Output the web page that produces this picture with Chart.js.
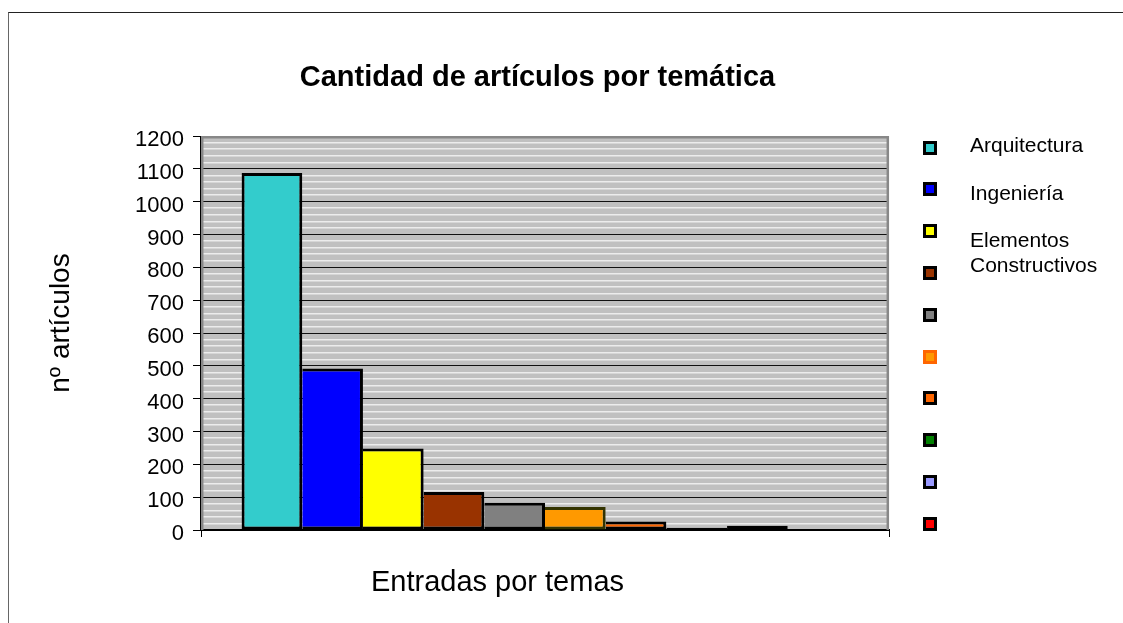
<!DOCTYPE html>
<html>
<head>
<meta charset="utf-8">
<script src="https://cdn.jsdelivr.net/npm/chart.js@4/dist/chart.umd.min.js"></script>
<style>
  html, body { margin: 0; padding: 0; background: #fff; }
  body { width: 1123px; height: 623px; position: relative; overflow: hidden; font-family: "Liberation Sans", Arial, sans-serif; color: #000; }
  #frame { position: absolute; left: 8px; top: 12px; width: 1200px; height: 700px; border-left: 1px solid #666; border-top: 1px solid #222; box-sizing: border-box; }
  #cv { position: absolute; left: 0; top: 0; }
  .txt { position: absolute; white-space: nowrap; line-height: 1; }
  #title { font-weight: bold; font-size: 29px; left: 237.5px; width: 600px; text-align: center; top: 61.5px; }
  #xtitle { font-size: 29px; left: 297.5px; width: 400px; text-align: center; top: 567px; }
  #ytitle { font-size: 28px; width: 300px; height: 28px; text-align: center; left: -89.7px; top: 308.5px; transform: rotate(-90deg); transform-origin: 150px 14px; }
  #legend { position: absolute; left: 0; top: 0; }
  .sw { position: absolute; width: 8px; height: 8px; border: 3px solid #000; }
  .lbl { position: absolute; left: 970px; width: 140px; font-size: 21px; line-height: 24.5px; white-space: normal; }
</style>
</head>
<body>
<div id="frame"></div>
<canvas id="cv" width="1123" height="623"></canvas>
<div class="txt" id="title"></div>
<div class="txt" id="xtitle"></div>
<div class="txt" id="ytitle"></div>
<div id="legend"></div>
<script>
// ---- data ----
const chartTitle = "Cantidad de artículos por temática";
const xAxisTitle = "Entradas por temas";
const yAxisTitle = "nº artículos";
const categories = [""];
const seriesNames = ["Arquitectura", "Ingeniería", "Elementos Constructivos", "", "", "", "", "", "", ""];
const seriesValues = [1087, 492, 248, 116, 83, 70, 26, 7, 13, 0];
const seriesColors = ["#33CCCC", "#0000FF", "#FFFF00", "#993300", "#808080", "#FF9900", "#FF6600", "#008000", "#9999FF", "#FF0000"];
const barBorderColors = ["#000", "#000", "#000", "#000", "#000", "#333300", "#000", "#000", "#000", "#000"];
const legendBorderColors = ["#000", "#000", "#000", "#000", "#000", "#FF6600", "#000", "#000", "#000", "#000"];
const yTickLabels = ["0", "100", "200", "300", "400", "500", "600", "700", "800", "900", "1000", "1100", "1200"];
const yMax = 1200;
const yMinorStep = 20;

document.getElementById('title').textContent = chartTitle;
document.getElementById('xtitle').textContent = xAxisTitle;
document.getElementById('ytitle').textContent = yAxisTitle;

// legend (HTML)
const legend = document.getElementById('legend');
seriesNames.forEach((name, i) => {
  const sw = document.createElement('div');
  sw.className = 'sw';
  sw.style.left = '923px';
  sw.style.top = (140.5 + i * 41.8) + 'px';
  sw.style.background = seriesColors[i];
  sw.style.borderColor = legendBorderColors[i];
  legend.appendChild(sw);
});
const namedLabels = seriesNames.filter(n => n !== "");
namedLabels.forEach((name, i) => {
  const d = document.createElement('div');
  d.className = 'lbl';
  d.style.top = (133.2 + i * 47.6) + 'px';
  d.textContent = name;
  legend.appendChild(d);
});

const plotBg = {
  id: 'plotBg',
  beforeDraw(chart) {
    const a = chart.chartArea, c = chart.ctx;
    c.save();
    c.fillStyle = '#c0c0c0';
    c.fillRect(a.left, a.top, a.right - a.left, a.bottom - a.top);
    c.restore();
  },
  beforeDatasetsDraw(chart) {
    const a = chart.chartArea, c = chart.ctx;
    c.save();
    c.strokeStyle = '#888';
    c.lineWidth = 2.5;
    c.beginPath();
    c.moveTo(a.left + 1.2, a.bottom);
    c.lineTo(a.left + 1.2, a.top + 1.2);
    c.lineTo(a.right - 1.2, a.top + 1.2);
    c.lineTo(a.right - 1.2, a.bottom);
    c.stroke();
    c.strokeStyle = '#000';
    c.lineWidth = 1;
    c.beginPath();
    c.moveTo(a.left - 0.5, a.top);
    c.lineTo(a.left - 0.5, a.bottom);
    c.stroke();
    c.restore();
  }
};

const datasets = seriesNames.map((name, i) => ({
  label: name,
  data: [seriesValues[i]],
  backgroundColor: seriesColors[i],
  borderColor: barBorderColors[i],
  borderWidth: { top: 3, bottom: 3, right: 3, left: i === 0 ? 3 : 0 },
  borderSkipped: false,
  categoryPercentage: 0.882,
  barPercentage: 1.0
}));

new Chart(document.getElementById('cv'), {
  type: 'bar',
  data: { labels: categories, datasets },
  plugins: [plotBg],
  options: {
    responsive: false,
    animation: false,
    devicePixelRatio: 1,
    layout: { padding: { left: 101, right: 234, top: 136, bottom: 83 } },
    plugins: { legend: { display: false }, title: { display: false }, tooltip: { enabled: false } },
    scales: {
      x: {
        type: 'category',
        offset: true,
        afterFit(s) { s.height = 10; },
        grid: { display: true, drawOnChartArea: false, drawTicks: true, tickLength: 7, color: '#000', offset: true },
        border: { display: true, color: '#000', width: 2 },
        ticks: { display: false }
      },
      y: {
        min: 0,
        max: yMax,
        afterFit(s) { s.width = 100; },
        afterBuildTicks(s) {
          const t = [];
          for (let v = 0; v <= yMax; v += yMinorStep) t.push({ value: v });
          s.ticks = t;
        },
        grid: {
          color: (ctx) => (ctx.tick && ctx.tick.value % 100 === 0) ? '#111' : '#ececec',
          lineWidth: (ctx) => (ctx.tick && ctx.tick.value % 100 === 0) ? 1 : 1.5,
          tickColor: (ctx) => (ctx.tick && ctx.tick.value % 100 === 0) ? '#000' : 'rgba(0,0,0,0)',
          tickLength: 8,
          drawTicks: true
        },
        border: { display: false },
        ticks: {
          autoSkip: false,
          padding: 9,
          labelOffset: 4,
          color: '#000',
          font: { family: "'Liberation Sans', Arial, sans-serif", size: 22 },
          callback: (v) => yTickLabels.includes(String(v)) ? String(v) : ''
        }
      }
    }
  }
});
</script>
</body>
</html>
